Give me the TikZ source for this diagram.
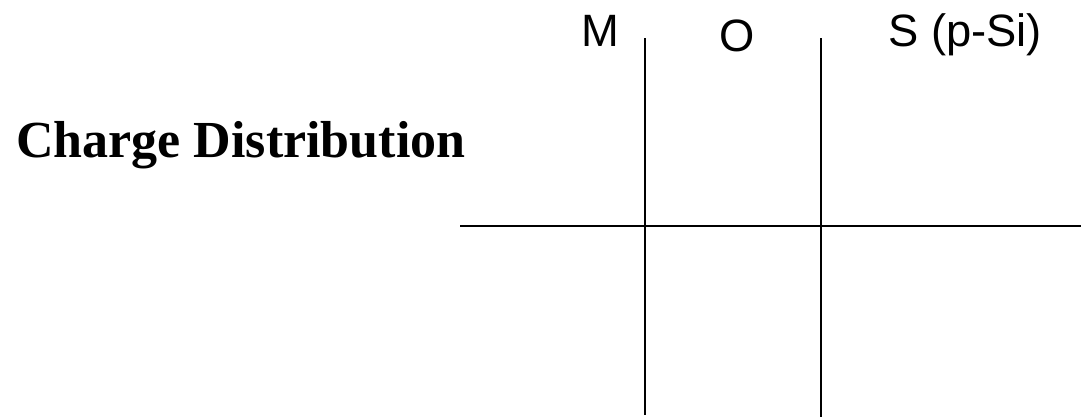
\documentclass[tikz,border=0pt]{standalone}
\usepackage{fontspec}
\setmainfont{Liberation Serif}
\newfontfamily\arialfont{Liberation Sans}
\begin{document}
\begin{tikzpicture}[x=0.75pt,y=-0.75pt,
  axisline/.style={line width=1.6pt,black},
  layerlabel/.style={font=\arialfont\fontsize{34}{40}\selectfont,inner sep=0pt,anchor=base},
  titlelabel/.style={font=\bfseries\fontsize{39}{46}\selectfont,inner sep=0pt,anchor=base west}]
\useasboundingbox (0,0) rectangle (1081,418);
\coordinate (v1t) at (645,38);
\coordinate (v1b) at (645,415);
\coordinate (v2t) at (821,38);
\coordinate (v2b) at (821,417);
\coordinate (hl) at (460,226);
\coordinate (hr) at (1081,226);
\draw[axisline] (v1t) -- (v1b);
\draw[axisline] (v2t) -- (v2b);
\draw[axisline] (hl) -- (hr);
\node[titlelabel] (title) at (16,157) {Charge Distribution};
\node[layerlabel] (m) at (600,46) {M};
\node[layerlabel] (o) at (737,51) {O};
\node[layerlabel,anchor=base west] (s) at (888,46) {S (p-Si)};
\end{tikzpicture}
\end{document}
